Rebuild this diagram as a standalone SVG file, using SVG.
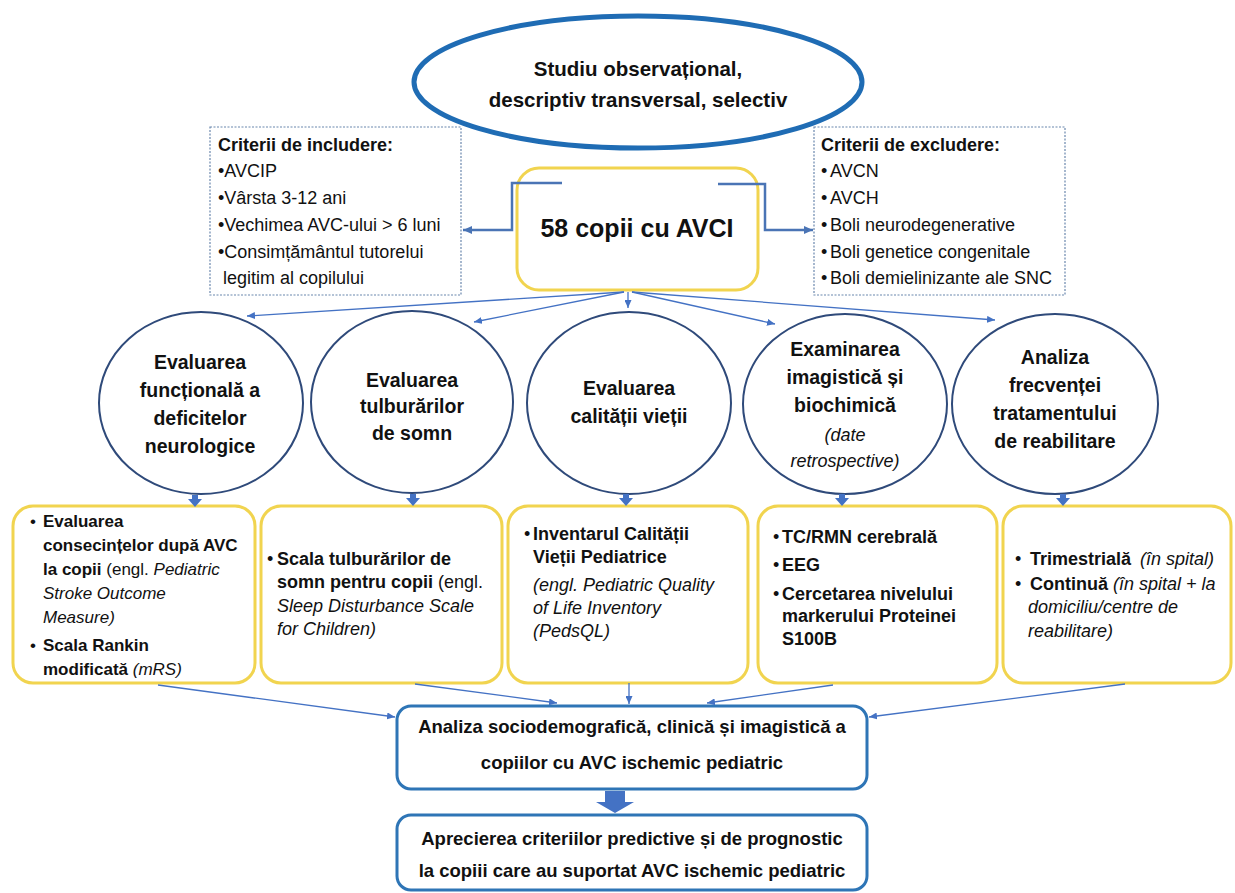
<svg xmlns="http://www.w3.org/2000/svg" width="1235" height="893" viewBox="0 0 1235 893">
<style>
text{font-family:"Liberation Sans",Arial,sans-serif;fill:#111;}
.t{font-size:20.5px;font-weight:bold;text-anchor:middle;}
.big{font-size:25px;font-weight:bold;text-anchor:middle;}
.cr{font-size:18px;}
.b{font-weight:bold;}
.i{font-style:italic;}
.c{font-size:19.5px;font-weight:bold;text-anchor:middle;}
.ci{font-size:18px;font-style:italic;text-anchor:middle;}
.bx{font-size:18px;}
.bx1{font-size:17px;}
.an{font-size:18.5px;font-weight:bold;text-anchor:middle;}
.yb{fill:#fff;stroke:#f1d44f;stroke-width:3;}
.circ{fill:#fff;stroke:#2f4a7a;stroke-width:2;}
.crit{fill:#fff;stroke:#6a87ad;stroke-width:1.2;stroke-dasharray:2 1.5;}
.blb{fill:#fff;stroke:#2e75b6;stroke-width:3;}
.ln{fill:none;stroke:#4472c4;stroke-width:1.3;marker-end:url(#ah);}
.el{fill:none;stroke:#4a74b5;stroke-width:2.5;marker-end:url(#ah2);}
.blk{fill:#4472c4;}
</style>
<defs>
<marker id="ah" markerUnits="userSpaceOnUse" markerWidth="8" markerHeight="7" refX="8" refY="3.5" orient="auto"><path d="M0,0 L8,3.5 L0,7 z" fill="#4472c4"/></marker>
<marker id="ah2" markerUnits="userSpaceOnUse" markerWidth="9" markerHeight="8" refX="9" refY="4" orient="auto"><path d="M0,0 L9,4 L0,8 z" fill="#4a74b5"/></marker>
</defs>
<rect width="1235" height="893" fill="#fff"/>

<g id="title">
<ellipse cx="638" cy="82" rx="224" ry="66" fill="#fff" stroke="#1f6cb4" stroke-width="5"/>
<text class="t" x="638" y="76">Studiu observațional,</text>
<text class="t" x="638" y="107">descriptiv transversal, selectiv</text>
</g>

<g id="includere">
<rect class="crit" x="210" y="127" width="251" height="168"/>
<text class="cr b" x="218" y="151">Criterii de includere:</text>
<text class="cr" x="218" y="177">•AVCIP</text>
<text class="cr" x="218" y="204">•Vârsta 3-12 ani</text>
<text class="cr" x="218" y="231">•Vechimea AVC-ului &gt; 6 luni</text>
<text class="cr" x="218" y="258">•Consimțământul tutorelui</text>
<text class="cr" x="223" y="284">legitim al copilului</text>
</g>

<g id="excludere">
<rect class="crit" x="814" y="127" width="251" height="168"/>
<text class="cr b" x="821" y="151">Criterii de excludere:</text>
<text class="cr" y="177"><tspan x="821">•</tspan><tspan x="830">AVCN</tspan></text>
<text class="cr" y="204"><tspan x="821">•</tspan><tspan x="830">AVCH</tspan></text>
<text class="cr" y="231"><tspan x="821">•</tspan><tspan x="830">Boli neurodegenerative</tspan></text>
<text class="cr" y="258"><tspan x="821">•</tspan><tspan x="830">Boli genetice congenitale</tspan></text>
<text class="cr" y="284"><tspan x="821">•</tspan><tspan x="830">Boli demielinizante ale SNC</tspan></text>
</g>

<g id="copii">
<rect class="yb" x="517" y="168" width="241" height="122" rx="22"/>
<text class="big" x="637" y="237">58 copii cu AVCI</text>
</g>

<g id="c1">
<ellipse class="circ" cx="201" cy="403" rx="102" ry="91"/>
<text class="c" x="200" y="369">Evaluarea</text>
<text class="c" x="200" y="397">funcțională a</text>
<text class="c" x="200" y="425">deficitelor</text>
<text class="c" x="200" y="453">neurologice</text>
</g>
<g id="c2">
<ellipse class="circ" cx="412" cy="402" rx="101" ry="91"/>
<text class="c" x="412" y="387">Evaluarea</text>
<text class="c" x="412" y="413">tulburărilor</text>
<text class="c" x="412" y="440">de somn</text>
</g>
<g id="c3">
<ellipse class="circ" cx="629" cy="403" rx="102" ry="91"/>
<text class="c" x="629" y="395">Evaluarea</text>
<text class="c" x="629" y="423">calității vieții</text>
</g>
<g id="c4">
<ellipse class="circ" cx="845" cy="404" rx="102" ry="90"/>
<text class="c" x="845" y="356">Examinarea</text>
<text class="c" x="845" y="384">imagistică și</text>
<text class="c" x="845" y="412">biochimică</text>
<text class="ci" x="845" y="441">(date</text>
<text class="ci" x="845" y="467">retrospective)</text>
</g>
<g id="c5">
<ellipse class="circ" cx="1055" cy="404" rx="103" ry="90"/>
<text class="c" x="1055" y="364">Analiza</text>
<text class="c" x="1055" y="392">frecvenței</text>
<text class="c" x="1055" y="420">tratamentului</text>
<text class="c" x="1055" y="448">de reabilitare</text>
</g>

<g id="b1">
<rect class="yb" x="13" y="506" width="242" height="177" rx="20"/>
<text class="bx1" y="527"><tspan x="30">•</tspan><tspan x="43" class="b">Evaluarea</tspan></text>
<text class="bx1 b" x="43" y="551">consecințelor după AVC</text>
<text class="bx1" x="43" y="575"><tspan class="b">la copii</tspan> (engl. <tspan class="i">Pediatric</tspan></text>
<text class="bx1 i" x="43" y="599">Stroke Outcome</text>
<text class="bx1 i" x="43" y="623">Measure)</text>
<text class="bx1" y="651"><tspan x="30">•</tspan><tspan x="43" class="b">Scala Rankin</tspan></text>
<text class="bx1" x="43" y="675"><tspan class="b">modificată</tspan> <tspan class="i">(mRS)</tspan></text>
</g>
<g id="b2">
<rect class="yb" x="261" y="506" width="241" height="177" rx="20"/>
<text class="bx" y="565"><tspan x="267">•</tspan><tspan x="277" class="b">Scala tulburărilor de</tspan></text>
<text class="bx" x="277" y="588"><tspan class="b">somn pentru copii</tspan> (engl.</text>
<text class="bx i" x="277" y="612">Sleep Disturbance Scale</text>
<text class="bx i" x="277" y="635">for Children)</text>
</g>
<g id="b3">
<rect class="yb" x="508" y="506" width="240" height="177" rx="20"/>
<text class="bx" y="540"><tspan x="524">•</tspan><tspan x="533" class="b">Inventarul Calității</tspan></text>
<text class="bx b" x="533" y="563">Vieții Pediatrice</text>
<text class="bx i" x="533" y="591">(engl. Pediatric Quality</text>
<text class="bx i" x="533" y="614">of Life Inventory</text>
<text class="bx i" x="533" y="637">(PedsQL)</text>
</g>
<g id="b4">
<rect class="yb" x="758" y="506" width="239" height="177" rx="20"/>
<text class="bx" y="543"><tspan x="773">•</tspan><tspan x="782" class="b">TC/RMN cerebrală</tspan></text>
<text class="bx" y="571"><tspan x="773">•</tspan><tspan x="782" class="b">EEG</tspan></text>
<text class="bx" y="600"><tspan x="773">•</tspan><tspan x="782" class="b">Cercetarea nivelului</tspan></text>
<text class="bx b" x="782" y="622">markerului Proteinei</text>
<text class="bx b" x="782" y="645">S100B</text>
</g>
<g id="b5">
<rect class="yb" x="1003" y="506" width="228" height="177" rx="20"/>
<text class="bx" y="565"><tspan x="1015">•</tspan><tspan x="1030" class="b">Trimestrială</tspan><tspan x="1140" class="i">(în spital)</tspan></text>
<text class="bx" y="590"><tspan x="1015">•</tspan><tspan x="1030" class="b">Continuă</tspan><tspan class="i"> (în spital + la</tspan></text>
<text class="bx i" x="1028" y="613">domiciliu/centre de</text>
<text class="bx i" x="1028" y="637">reabilitare)</text>
</g>

<g id="analiza">
<rect class="blb" x="397" y="706" width="470" height="83" rx="14"/>
<text class="an" x="632" y="733">Analiza sociodemografică, clinică și imagistică a</text>
<text class="an" x="632" y="769">copiilor cu AVC ischemic pediatric</text>
</g>
<g id="apreciere">
<rect class="blb" x="397" y="815" width="470" height="75" rx="14"/>
<text class="an" x="632" y="845">Aprecierea criteriilor predictive și de prognostic</text>
<text class="an" x="632" y="877">la copiii care au suportat AVC ischemic pediatric</text>
</g>

<g id="connectors">
<path class="el" d="M562,183 H512 V230 H463"/>
<path class="el" d="M718,184 H765 V230 H813"/>
<path class="ln" d="M624,292 L247,316"/>
<path class="ln" d="M624,292 L474,322"/>
<path class="ln" d="M628,292 L628,308"/>
<path class="ln" d="M632,292 L775,324"/>
<path class="ln" d="M632,292 L995,320"/>
<polygon class="blk" points="192,495 198,495 198,499 202,499 195,507 188,499 192,499"/>
<polygon class="blk" points="410,494 416,494 416,498 420,498 413,506 406,498 410,498"/>
<polygon class="blk" points="623,494 629,494 629,498 633,498 626,506 619,498 623,498"/>
<polygon class="blk" points="839,494 845,494 845,498 849,498 842,506 835,498 839,498"/>
<polygon class="blk" points="1060,494 1066,494 1066,498 1070,498 1063,506 1056,498 1060,498"/>
<path class="ln" d="M158,685 L395,717"/>
<path class="ln" d="M415,684 L557,703"/>
<path class="ln" d="M629,683 L629,704"/>
<path class="ln" d="M833,685 L707,703"/>
<path class="ln" d="M1125,684 L869,717"/>
<polygon class="blk" points="605,791 625,791 625,802 634,802 615,813 596,802 605,802"/>
</g>
</svg>
